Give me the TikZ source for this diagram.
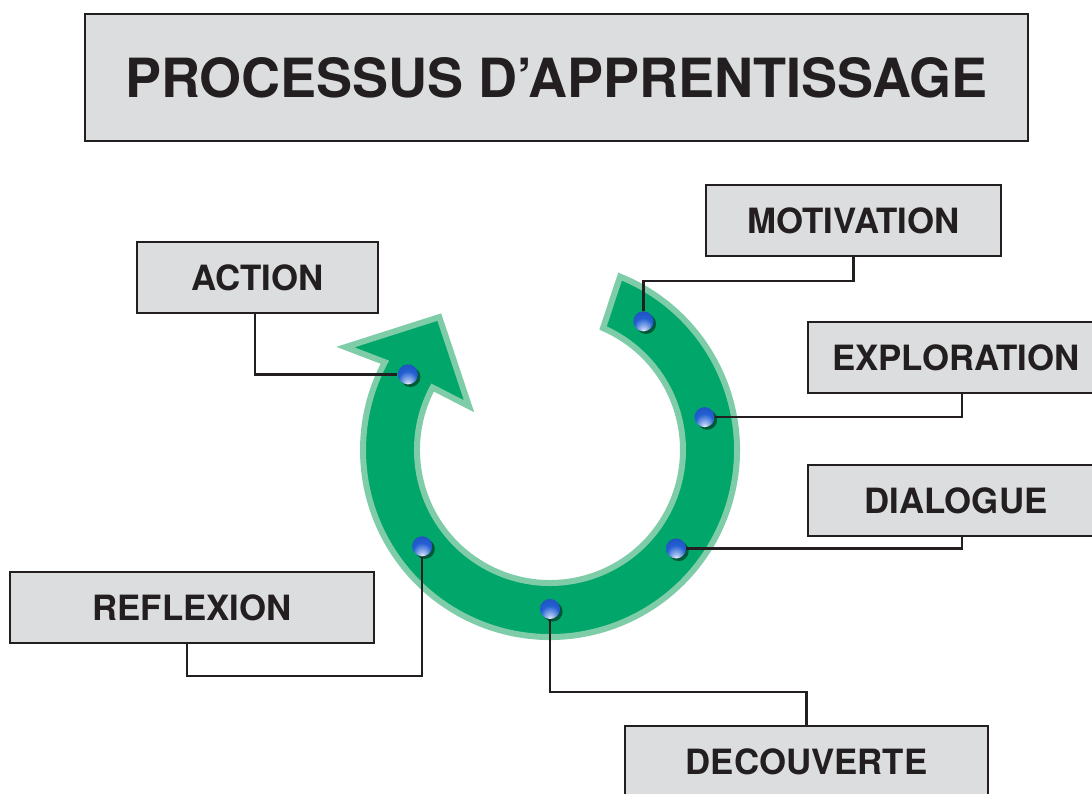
\documentclass[tikz,border=0pt]{standalone}
\usepackage{fontspec}
\setmainfont{TeX Gyre Heros}
\usepackage{tikz}
\usepackage{xcolor}
\usetikzlibrary{shadows}
\definecolor{boxgray}{RGB}{220,221,223}
\definecolor{inkline}{RGB}{35,31,32}
\definecolor{ringgreen}{RGB}{0,166,106}
\definecolor{ringedge}{RGB}{126,204,168}
\definecolor{beadblue}{RGB}{35,95,210}
\definecolor{beaddark}{RGB}{25,60,160}
\definecolor{beadlight}{RGB}{170,195,240}
\pgfdeclareradialshading{beadshade}{\pgfpoint{0bp}{-26bp}}{color(0bp)=(white); color(7bp)=(beadlight); color(24bp)=(beadblue); color(60bp)=(beaddark)}
\tikzstyle{stage} = [rectangle, draw=inkline, line width=1.2pt, fill=boxgray, text=inkline, minimum height=35.5pt, font=\fontsize{17.4pt}{20pt}\selectfont\bfseries]
\tikzstyle{bead} = [circle, inner sep=0pt, minimum size=10pt, shading=beadshade, drop shadow={shadow xshift=1.3pt, shadow yshift=-1.3pt, fill=black!85!ringgreen, opacity=0.55}]
\tikzstyle{link} = [draw=inkline, line width=1.2pt]
\tikzstyle{ring} = [fill=ringgreen, draw=ringedge, line width=3pt]

\begin{document}
\begin{tikzpicture}[x=0.5pt,y=0.5pt]
  \clip (0,0) rectangle (1092,793);
  \node[stage, minimum width=471.5pt, minimum height=63.5pt, font=\fontsize{27pt}{32pt}\selectfont\bfseries] (title) at (556.5,715.5) {PROCESSUS D’APPRENTISSAGE};
  \node[stage, minimum width=147.5pt] (motivation) at (853.5,572.5) {MOTIVATION};
  \node[stage, minimum width=120.5pt] (action) at (257.5,515.5) {ACTION};
  \node[stage, minimum width=148pt] (exploration) at (956,435.5) {EXPLORATION};
  \node[stage, minimum width=148pt] (dialogue) at (956,292.5) {DIALOGUE};
  \node[stage, minimum width=182pt] (reflexion) at (192,185.5) {REFLEXION};
  \node[stage, minimum width=181.5pt] (decouverte) at (806.5,31.5) {DECOUVERTE};

  \begin{scope}[shift={(550,343)}]
    \draw[ring] (68:187) arc[start angle=68, end angle=-208, radius=187]
      -- (-206.7:229) -- (-230.2:173) -- (-208.4:92) -- (-208:133)
      arc[start angle=-208, end angle=66.5, radius=133] -- cycle;
    \node[bead] (b_action) at (152:161) {};
    \node[bead] (b_motivation) at (54:159) {};
    \node[bead] (b_exploration) at (12:158) {};
    \node[bead] (b_dialogue) at (-38:160) {};
    \node[bead] (b_decouverte) at (-90:159) {};
    \node[bead] (b_reflexion) at (-143:160) {};
  \end{scope}

  \path[link] ([xshift=-1.25pt]action.south) |- (b_action);
  \path[link] (motivation.south) -- ++(0,-24) -| (b_motivation);
  \path[link] ([xshift=3pt]exploration.south) |- (b_exploration);
  \path[link] ([xshift=3pt]dialogue.south) |- (b_dialogue);
  \path[link] ([xshift=-2.5pt]reflexion.south) -- ++(0,-32) -| (b_reflexion);
  \path[link] (b_decouverte) -- ++(0,-83) -| (decouverte.north);
\end{tikzpicture}
\end{document}
